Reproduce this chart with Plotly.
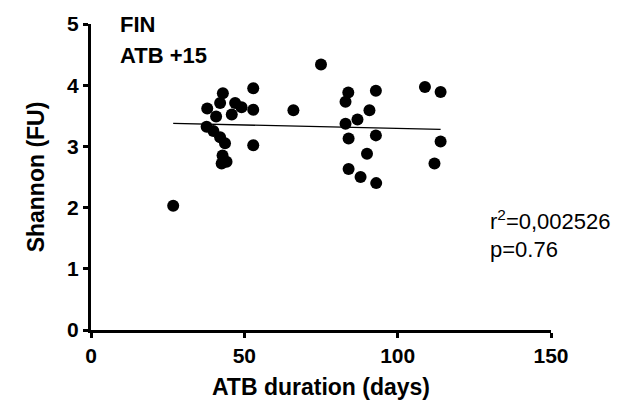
import numpy as np
import plotly.graph_objects as go

# ATB duration (days)
atb_days = [26.8, 37.9, 37.7, 39.9, 40.8, 42.1, 42.6, 42.1, 43.0, 42.9, 43.7, 44.2,
            45.9, 47.0, 49.1, 52.9, 52.9, 52.9, 66.0, 75.0,
            83.0, 83.0, 83.9, 84.0, 84.0, 86.9, 87.9, 90.0, 90.8, 92.9, 92.9, 93.0,
            108.9, 112.0, 114.0, 114.0]
# Shannon (FU)
shannon = [2.03, 3.62, 3.32, 3.25, 3.49, 3.71, 2.72, 3.15, 3.87, 2.85, 3.05, 2.75,
           3.52, 3.71, 3.64, 3.95, 3.60, 3.02, 3.59, 4.34,
           3.73, 3.37, 3.88, 3.13, 2.63, 3.44, 2.50, 2.88, 3.59, 3.91, 3.18, 2.40,
           3.97, 2.72, 3.89, 3.08]

# linear regression line
fit_slope = -0.0011
fit_intercept = 3.405

x_ticks = [0, 50, 100, 150]
y_ticks = [0, 1, 2, 3, 4, 5]
title_lines = ["FIN", "ATB +15"]
stats_lines = ["r<sup>2</sup>=0,002526", "p=0.76"]

FONT = "Liberation Sans, Arial, sans-serif"

xa = np.array(atb_days)
fit_x = np.array([xa.min(), xa.max()])
fit_y = fit_slope * fit_x + fit_intercept

fig = go.Figure()
fig.add_trace(go.Scatter(x=atb_days, y=shannon, mode="markers",
                         marker=dict(color="black", size=12, line=dict(width=0)),
                         cliponaxis=False, showlegend=False))
fig.add_trace(go.Scatter(x=fit_x, y=fit_y, mode="lines",
                         line=dict(color="black", width=1.3), showlegend=False))

axis_common = dict(showgrid=False, zeroline=False, showline=True, linecolor="black",
                   linewidth=3, ticks="outside", ticklen=5, tickwidth=3, tickcolor="black",
                   tickfont=dict(family=FONT, size=21, color="black"))

fig.update_xaxes(range=[0, 150], tickvals=x_ticks,
                 ticktext=["<b>%d</b>" % v for v in x_ticks],
                 title=dict(text="<b>ATB duration (days)</b>",
                            font=dict(family=FONT, size=23, color="black"), standoff=13),
                 **axis_common)
fig.update_yaxes(range=[0, 5], tickvals=y_ticks,
                 ticktext=["<b>%d</b>" % v for v in y_ticks],
                 title=dict(text="<b>Shannon (FU)</b>",
                            font=dict(family=FONT, size=23, color="black"), standoff=17),
                 **axis_common)

fig.add_annotation(text="<b>" + title_lines[0] + "</b>", xref="paper", yref="paper",
                   x=0.058, y=0.998, xanchor="left", yanchor="middle", showarrow=False,
                   font=dict(family=FONT, size=22, color="black"))
fig.add_annotation(text="<b>" + title_lines[1] + "</b>", xref="paper", yref="paper",
                   x=0.058, y=0.896, xanchor="left", yanchor="middle", showarrow=False,
                   font=dict(family=FONT, size=22, color="black"))
fig.add_annotation(text=stats_lines[0], xref="paper", yref="paper",
                   x=0.862, y=0.358, xanchor="left", yanchor="middle", showarrow=False,
                   font=dict(family=FONT, size=22, color="black"))
fig.add_annotation(text=stats_lines[1], xref="paper", yref="paper",
                   x=0.862, y=0.262, xanchor="left", yanchor="middle", showarrow=False,
                   font=dict(family=FONT, size=22, color="black"))

fig.update_layout(width=634, height=412, plot_bgcolor="white", paper_bgcolor="white",
                  margin=dict(l=91, r=83, t=17, b=82))

fig.write_html("out.html")
